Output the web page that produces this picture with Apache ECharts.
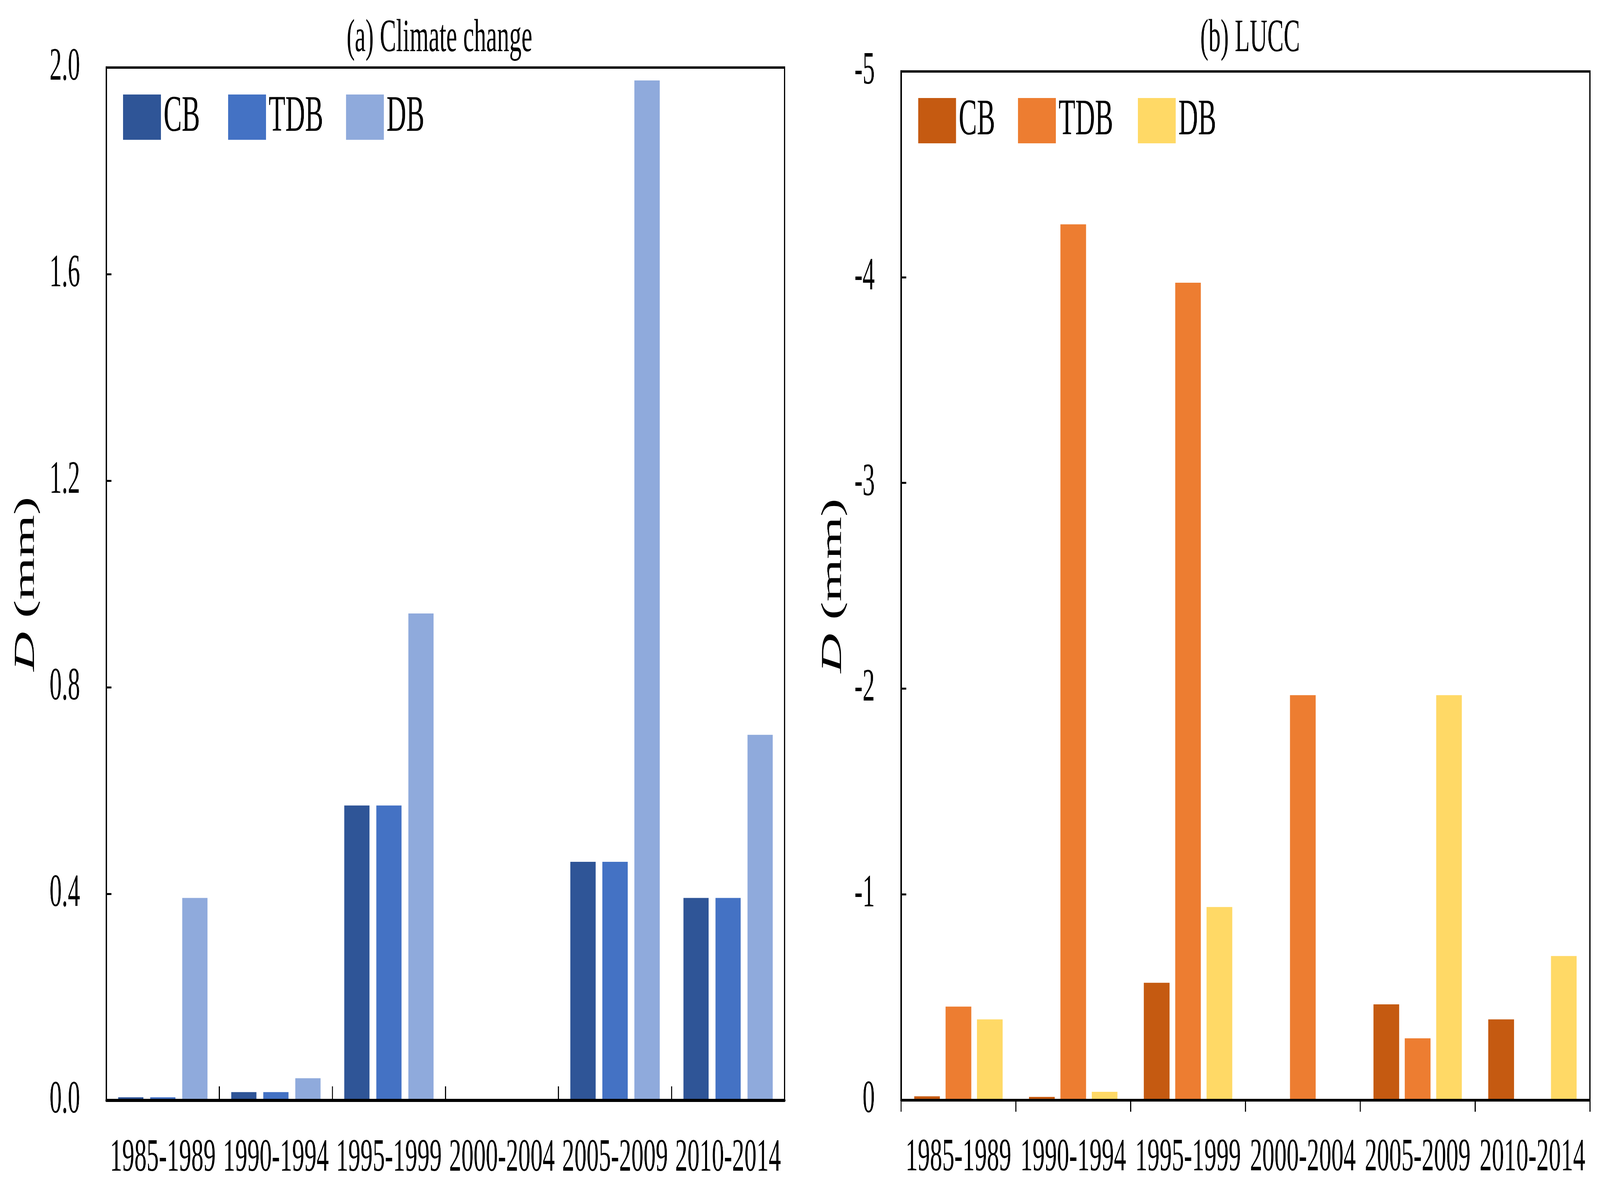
<!DOCTYPE html>
<html>
<head>
<meta charset="utf-8">
<script src="https://cdn.jsdelivr.net/npm/echarts@6/dist/echarts.min.js"></script>
<style>
html,body{margin:0;padding:0;background:#fff;width:100%;height:100%;overflow:hidden;}
#c{width:7737px;height:3050px;transform-origin:0 0;}
</style>
</head>
<body>
<div id="c"></div>
<script>
var categories = ['1985-1989','1990-1994','1995-1999','2000-2004','2005-2009','2010-2014'];
var seriesNames = ['CB','TDB','DB'];
// (a) Climate change
var climateCB  = [0.006, 0.016, 0.571, 0, 0.462, 0.392];
var climateTDB = [0.006, 0.016, 0.571, 0, 0.462, 0.392];
var climateDB  = [0.392, 0.043, 0.943, 0, 1.975, 0.708];
// (b) LUCC
var luccCB  = [-0.018, -0.015, -0.570, 0, -0.465, -0.392];
var luccTDB = [-0.454, -4.257, -3.973, -1.968, -0.300, 0];
var luccDB  = [-0.392, -0.040, -0.938, 0, -1.968, -0.700];
var climateTicks = [0, 0.4, 0.8, 1.2, 1.6, 2.0];
var luccTicks = [-5, -4, -3, -2, -1, 0];

var blueColors = ['#2F5597', '#4472C4', '#8FAADC'];
var orangeColors = ['#C55A11', '#ED7D31', '#FFD966'];
var FONT = 'Liberation Serif';

var el = document.getElementById('c');
// fit the 7737x3050 drawing into whatever viewport the browser actually has
var vw = window.innerWidth || 7737, vh = window.innerHeight || 3050;
if (vw !== 7737 || vh !== 3050) {
  el.style.transform = 'scale(' + (vw / 7737) + ',' + (vh / 3050) + ')';
}

var chart = echarts.init(el, null, {renderer: 'canvas', width: 7737, height: 3050});

function legendItem(name, color, left, top) {
  return {
    left: left, top: top, padding: 0, orient: 'horizontal',
    itemWidth: 183, itemHeight: 116, icon: 'rect',
    textStyle: {fontFamily: FONT, fontSize: 132, color: '#000', padding: [0, 0, 0, 8]},
    data: [{name: name, itemStyle: {color: color}}],
    selectedMode: false
  };
}

function yName(gap) {
  return {
    name: '{it|D} (mm)',
    nameLocation: 'middle',
    nameGap: gap,
    nameTextStyle: {
      fontFamily: FONT, fontSize: 140, color: '#000',
      rich: {it: {fontFamily: FONT, fontSize: 140, fontStyle: 'italic', color: '#000'}}
    }
  };
}

var clim = [climateCB, climateTDB, climateDB];
var lucc = [luccCB, luccTDB, luccDB];

var series = [];
for (var i = 0; i < 3; i++) {
  series.push({
    name: seriesNames[i], type: 'bar', xAxisIndex: 0, yAxisIndex: 0,
    data: clim[i], barGap: '27%', barCategoryGap: '21%',
    itemStyle: {color: blueColors[i]}, silent: true
  });
}
for (var j = 0; j < 3; j++) {
  series.push({
    name: seriesNames[j], type: 'bar', xAxisIndex: 1, yAxisIndex: 1,
    data: lucc[j], barGap: '22%', barCategoryGap: '23%',
    itemStyle: {color: orangeColors[j]}, silent: true
  });
}

function xAx(grid, inside, len, lw) {
  return {type: 'category', gridIndex: grid, data: categories, z: 5,
    axisLine: {lineStyle: {color: '#000', width: lw}},
    axisTick: {show: true, inside: inside, length: len, interval: 0, lineStyle: {color: '#000', width: 5}},
    axisLabel: {interval: 0, margin: 90, fontFamily: FONT, fontSize: 118, color: '#000'},
    splitLine: {show: false}};
}

var y0 = Object.assign({type: 'value', gridIndex: 0, min: climateTicks[0], max: climateTicks[climateTicks.length - 1], interval: 0.4, z: 5,
  axisLine: {show: true, lineStyle: {color: '#000', width: 7}},
  axisTick: {show: true, inside: true, length: 25, lineStyle: {color: '#000', width: 5}},
  axisLabel: {margin: 127, fontFamily: FONT, fontSize: 118, color: '#000',
    formatter: function (v) { return v.toFixed(1); }},
  splitLine: {show: false}}, yName(317));
var y1 = Object.assign({type: 'value', gridIndex: 1, min: luccTicks[0], max: luccTicks[luccTicks.length - 1], interval: 1, inverse: true, z: 5,
  axisLine: {show: true, lineStyle: {color: '#000', width: 7}},
  axisTick: {show: true, inside: true, length: 25, lineStyle: {color: '#000', width: 5}},
  axisLabel: {margin: 127, fontFamily: FONT, fontSize: 118, color: '#000',
    formatter: function (v) { return String(Math.round(v)); }},
  splitLine: {show: false}}, yName(257));

var option = {
  backgroundColor: '#fff',
  animation: false,
  title: [
    {text: '(a) Climate change', left: 2125, top: 41, padding: 0, textAlign: 'center',
     textStyle: {fontFamily: FONT, fontSize: 118, fontWeight: 'normal', color: '#000'}},
    {text: '(b) LUCC', left: 6045, top: 41, padding: 0, textAlign: 'center',
     textStyle: {fontFamily: FONT, fontSize: 118, fontWeight: 'normal', color: '#000'}}
  ],
  legend: [
    legendItem('CB', blueColors[0], 595, 234),
    legendItem('TDB', blueColors[1], 1103, 234),
    legendItem('DB', blueColors[2], 1673, 234),
    legendItem('CB', orangeColors[0], 4440, 243),
    legendItem('TDB', orangeColors[1], 4923, 243),
    legendItem('DB', orangeColors[2], 5502, 243)
  ],
  grid: [
    {left: 514, right: 3943, top: 173, bottom: 232, show: true, borderColor: '#000', borderWidth: 6, backgroundColor: 'transparent'},
    {left: 4357, right: 49, top: 183, bottom: 233, show: true, borderColor: '#000', borderWidth: 6, backgroundColor: 'transparent'}
  ],
  xAxis: [xAx(0, true, 36, 8), xAx(1, false, 30, 7)],
  yAxis: [y0, y1],
  series: series
};
chart.setOption(option);
</script>
</body>
</html>
